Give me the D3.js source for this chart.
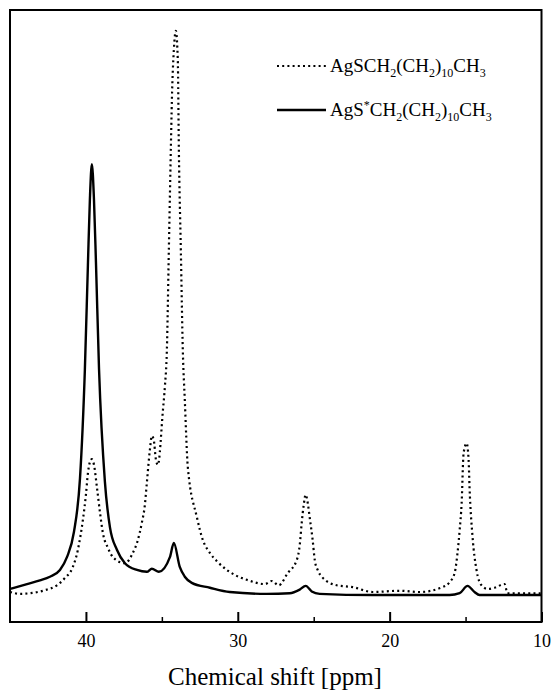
<!DOCTYPE html>
<html>
<head>
<meta charset="utf-8">
<script src="https://cdn.jsdelivr.net/npm/d3@7"></script>
<style>
  body { margin: 0; background: #fff; }
  text { font-family: "Liberation Serif", "Times New Roman", serif; fill: #000; }
</style>
</head>
<body>
<div id="svganchor"></div>
<script>
let width = 552;
let height = 690;
let margin = ({top: 10, right: 10.5, bottom: 68, left: 10});

// AgSCH2(CH2)10CH3 spectrum (dotted) - chemical shift in ppm, intensity in a.u.
let dottedPpm = [45.00, 44.34, 43.68, 42.70, 41.91, 41.38, 40.86, 40.53, 40.20, 40.00, 39.87, 39.74, 39.61, 39.47, 39.28, 39.08,
    38.88, 38.55, 38.22, 37.43, 36.91, 36.58, 36.32, 36.12, 35.99, 35.79, 35.66, 35.53, 35.39, 35.26, 34.93,
    34.80, 34.67, 34.54, 34.41, 34.34, 34.21, 34.08, 33.95, 33.88, 33.75, 33.62, 33.49, 33.29, 32.70, 32.30, 31.84,
    31.32, 30.72, 30.20, 29.41, 28.22, 27.76, 27.30, 26.71, 26.12, 25.92, 25.79, 25.66, 25.53, 25.39, 25.26, 25.07,
    24.93, 24.74, 24.47, 23.49, 22.43, 21.12, 19.34, 18.03, 16.51, 16.05, 15.72, 15.53, 15.39, 15.26, 15.13, 14.93,
    14.80, 14.74, 14.54, 14.28, 13.95, 13.55, 13.09, 12.43, 12.24, 10.33, 10.00];
let dottedInt = [4.9, 4.6, 4.7, 5.2, 6.0, 7.2, 9.0, 11.8, 16.7, 20.8, 24.3, 26.1, 26.6, 25.7, 22.1, 18.0,
    14.5, 12.1, 10.6, 9.6, 11.3, 13.4, 16.2, 19.1, 22.7, 28.1, 30.4, 29.7, 26.5, 25.7, 34.6,
    38.5, 44.4, 60.8, 77.1, 85.3, 93.5, 96.6, 91.8, 77.1, 60.8, 44.4, 36.3, 25.3, 17.2, 13.4, 11.3,
    9.8, 8.5, 7.7, 6.9, 6.2, 6.7, 6.0, 8.0, 10.1, 12.6, 16.2, 19.1, 20.8, 19.4, 17.0, 13.4,
    10.1, 8.5, 7.4, 6.0, 5.7, 4.9, 5.1, 4.9, 5.7, 6.5, 8.0, 11.3, 15.0, 19.4, 27.6, 29.2,
    26.5, 22.1, 13.9, 8.5, 6.0, 5.4, 5.6, 6.2, 4.7, 4.7, 4.7];

// AgS*CH2(CH2)10CH3 spectrum (solid)
let solidPpm = [45.00, 43.88, 43.03, 42.37, 41.71, 41.25, 40.79, 40.39, 40.07, 39.87, 39.74, 39.61, 39.47, 39.34, 39.14, 38.75,
    38.42, 37.96, 37.43, 36.64, 35.99, 35.66, 35.20, 34.47, 34.21, 33.82, 33.49, 33.03, 31.84, 30.53, 28.09, 26.58,
    25.92, 25.53, 25.13, 24.61, 21.12, 16.05, 15.39, 14.87, 14.41, 14.08, 10.00];
let solidInt = [5.4, 6.2, 6.8, 7.4, 8.5, 10.6, 14.7, 23.5, 41.2, 58.3, 69.0, 74.8, 69.0, 58.8, 41.5, 22.9,
    15.5, 11.8, 9.6, 8.5, 8.2, 8.7, 8.2, 10.6, 12.9, 9.0, 7.4, 6.4, 5.6, 4.9, 4.6, 4.7,
    5.3, 5.9, 5.0, 4.6, 4.4, 4.4, 4.7, 5.9, 4.9, 4.4, 4.4];

let majorTicks = [40, 30, 20, 10];
let minorTicks = [35, 25, 15];

let series = [
    {name: ["AgS", null, "CH", "2", "(CH", "2", ")", "10", "CH", "3"], ppm: dottedPpm, val: dottedInt, dash: "2,3.2"},
    {name: ["AgS", "*", "CH", "2", "(CH", "2", ")", "10", "CH", "3"], ppm: solidPpm, val: solidInt, dash: null}
];

let svg = d3.select("#svganchor")
    .append("svg")
    .attr("width", width)
    .attr("height", height);

let xScale = d3.scaleLinear()
    .domain([45, 10])
    .range([margin.left, width - margin.right]);

let yScale = d3.scaleLinear()
    .domain([0, 100])
    .range([height - margin.bottom, margin.top]);

let line = d3.line()
    .x(function(d) { return xScale(d[0]); })
    .y(function(d) { return yScale(d[1]); })
    .curve(d3.curveMonotoneX);

series.forEach(function(s) {
    let pts = s.ppm.map(function(p, i) { return [p, s.val[i]]; });
    svg.append("path")
        .datum(pts)
        .attr("fill", "none")
        .attr("stroke", "#000")
        .attr("stroke-width", s.dash ? 2.2 : 2.4)
        .attr("stroke-dasharray", s.dash)
        .attr("d", line);
});

// frame
svg.append("rect")
    .attr("x", margin.left)
    .attr("y", margin.top)
    .attr("width", width - margin.right - margin.left)
    .attr("height", height - margin.bottom - margin.top)
    .attr("fill", "none")
    .attr("stroke", "#000")
    .attr("stroke-width", 2);

// major ticks with labels, minor ticks without
let xAxis = d3.axisBottom(xScale)
    .tickValues(majorTicks)
    .tickSize(-10)
    .tickPadding(12)
    .tickFormat(d3.format("d"));

let gx = svg.append("g")
    .attr("transform", "translate(0," + (height - margin.bottom) + ")")
    .call(xAxis);
gx.select(".domain").remove();
gx.selectAll("line").attr("stroke-width", 2);
gx.selectAll("text").attr("font-size", 18).attr("fill", "#000")
    .style("font-family", "'Liberation Serif', 'Times New Roman', serif");

let gm = svg.append("g")
    .attr("transform", "translate(0," + (height - margin.bottom) + ")")
    .call(d3.axisBottom(xScale).tickValues(minorTicks).tickSize(-5).tickFormat(""));
gm.select(".domain").remove();
gm.selectAll("line").attr("stroke-width", 1.5);

svg.append("text")
    .attr("x", 275)
    .attr("y", 685)
    .attr("text-anchor", "middle")
    .attr("font-size", 25)
    .text("Chemical shift [ppm]");

// legend
let legend = svg.append("g");
series.forEach(function(s, i) {
    let ly = 66 + i * 44;
    legend.append("line")
        .attr("x1", 277).attr("x2", 326)
        .attr("y1", ly).attr("y2", ly)
        .attr("stroke", "#000")
        .attr("stroke-width", s.dash ? 2 : 2.4)
        .attr("stroke-dasharray", s.dash);
    let t = legend.append("text")
        .attr("x", 330)
        .attr("y", ly + 6)
        .attr("font-size", 19);
    let shift = 0;
    s.name.forEach(function(part, k) {
        if (part == null) return;
        let small = k % 2 == 1;
        let target = small ? (k == 1 ? -7 : 5) : 0;
        t.append("tspan")
            .attr("dy", target - shift)
            .attr("font-size", small ? 12 : 19)
            .text(part);
        shift = target;
    });
});
</script>
</body>
</html>
